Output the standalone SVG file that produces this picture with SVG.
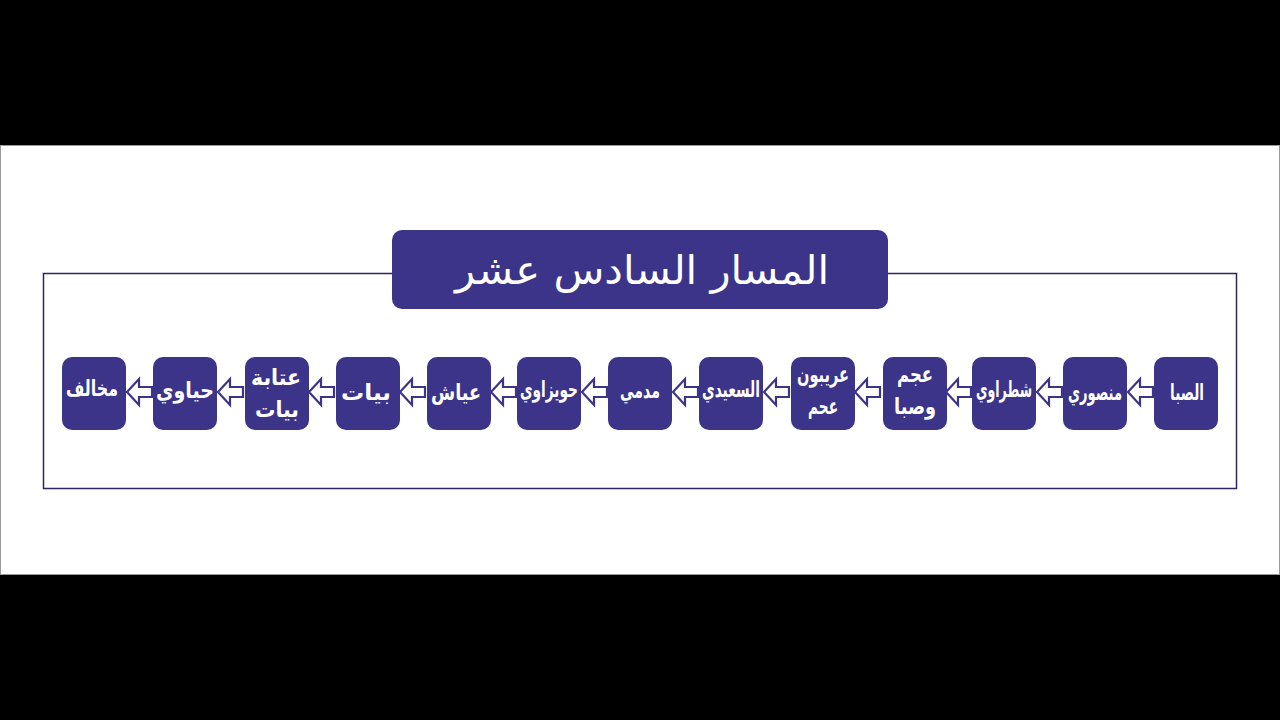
<svg xmlns="http://www.w3.org/2000/svg" xmlns:xlink="http://www.w3.org/1999/xlink" width="1280" height="720" viewBox="0 0 1280 720">
<style>
.node{fill:#3c3489}
.lbl{fill:#fff;font-family:"DejaVu Sans",sans-serif;font-weight:bold;font-size:22px;text-anchor:middle}
.arrow{fill:#fff;stroke:#3c3489;stroke-width:2.2;stroke-linejoin:miter}
</style>
<defs>
<path id="arr" class="arrow" d="M0,0 L12,-13 L12,-5 L25,-5 L25,5 L12,5 L12,13 Z"/>
</defs>
<rect x="0" y="0" width="1280" height="720" fill="#000"/>
<rect x="0.5" y="145.5" width="1279" height="429" fill="#fff" stroke="#9a9a9a" stroke-width="1"/>
<rect x="43.5" y="273.5" width="1193" height="215" fill="none" stroke="#2b2563" stroke-width="1.5"/>
<g id="title">
<rect x="392" y="230" width="496" height="79" rx="10" fill="#3c3489"/>
<text x="642" y="284" fill="#fff" font-family="DejaVu Sans, sans-serif" font-size="40" text-anchor="middle" direction="rtl" textLength="374" lengthAdjust="spacingAndGlyphs">المسار السادس عشر</text>
</g>
<g id="connectors">
<use xlink:href="#arr" x="127" y="392"/>
<use xlink:href="#arr" x="218" y="392"/>
<use xlink:href="#arr" x="309" y="392"/>
<use xlink:href="#arr" x="400" y="392"/>
<use xlink:href="#arr" x="491" y="392"/>
<use xlink:href="#arr" x="582" y="392"/>
<use xlink:href="#arr" x="673" y="392"/>
<use xlink:href="#arr" x="764" y="392"/>
<use xlink:href="#arr" x="855" y="392"/>
<use xlink:href="#arr" x="946" y="392"/>
<use xlink:href="#arr" x="1037" y="392"/>
<use xlink:href="#arr" x="1128" y="392"/>
</g>
<g id="n1"><rect class="node" x="1154" y="357" width="64" height="73" rx="10"/><text class="lbl" x="1187" y="400" textLength="34" lengthAdjust="spacingAndGlyphs">الصبا</text></g>
<g id="n2"><rect class="node" x="1063" y="357" width="64" height="73" rx="10"/><text class="lbl" x="1095" y="400" textLength="54" lengthAdjust="spacingAndGlyphs">منصوري</text></g>
<g id="n3"><rect class="node" x="972" y="357" width="64" height="73" rx="10"/><text class="lbl" x="1004" y="397" textLength="56" lengthAdjust="spacingAndGlyphs">شطراوي</text></g>
<g id="n4"><rect class="node" x="883" y="357" width="64" height="73" rx="10"/><text class="lbl" x="915" y="382" textLength="36" lengthAdjust="spacingAndGlyphs">عجم</text><text class="lbl" x="915" y="414" textLength="42" lengthAdjust="spacingAndGlyphs">وصبا</text></g>
<g id="n5"><rect class="node" x="791" y="357" width="64" height="73" rx="10"/><text class="lbl" x="823" y="382" textLength="52" lengthAdjust="spacingAndGlyphs">عريبون</text><text class="lbl" x="823" y="414" textLength="30" lengthAdjust="spacingAndGlyphs">عحم</text></g>
<g id="n6"><rect class="node" x="699" y="357" width="64" height="73" rx="10"/><text class="lbl" x="731" y="397" textLength="58" lengthAdjust="spacingAndGlyphs">السعيدي</text></g>
<g id="n7"><rect class="node" x="608" y="357" width="64" height="73" rx="10"/><text class="lbl" x="640" y="398" textLength="40" lengthAdjust="spacingAndGlyphs">مدمي</text></g>
<g id="n8"><rect class="node" x="517" y="357" width="64" height="73" rx="10"/><text class="lbl" x="549" y="397" textLength="58" lengthAdjust="spacingAndGlyphs">حويزاوي</text></g>
<g id="n9"><rect class="node" x="427" y="357" width="64" height="73" rx="10"/><text class="lbl" x="456" y="400" font-size="25" textLength="50" lengthAdjust="spacingAndGlyphs">عياش</text></g>
<g id="n10"><rect class="node" x="336" y="357" width="64" height="73" rx="10"/><text class="lbl" x="366" y="400" font-size="25" textLength="50" lengthAdjust="spacingAndGlyphs">بيات</text></g>
<g id="n11"><rect class="node" x="245" y="357" width="64" height="73" rx="10"/><text class="lbl" x="276" y="385" font-size="24" textLength="50" lengthAdjust="spacingAndGlyphs">عتابة</text><text class="lbl" x="277" y="417" font-size="24" textLength="44" lengthAdjust="spacingAndGlyphs">بيات</text></g>
<g id="n12"><rect class="node" x="153" y="357" width="64" height="73" rx="10"/><text class="lbl" x="185" y="398" font-size="24" textLength="58" lengthAdjust="spacingAndGlyphs">حياوي</text></g>
<g id="n13"><rect class="node" x="62" y="357" width="64" height="73" rx="10"/><text class="lbl" x="92" y="396" font-size="22" textLength="52" lengthAdjust="spacingAndGlyphs">مخالف</text></g>
</svg>
